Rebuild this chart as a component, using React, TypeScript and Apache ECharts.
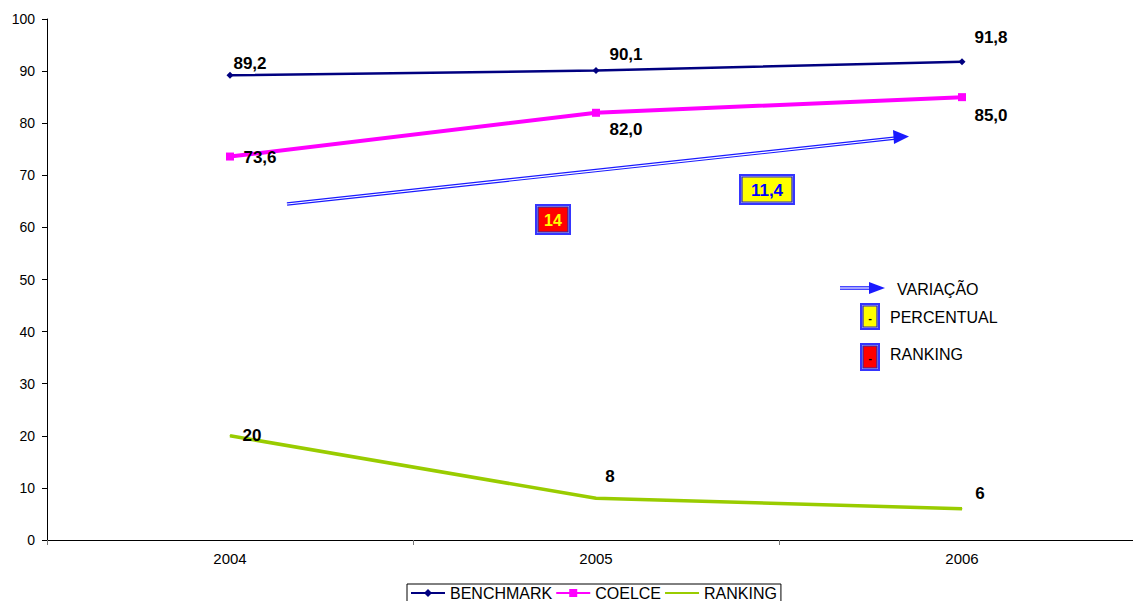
import React, { useEffect, useRef } from "react";
import * as echarts from "echarts";

const years = ["2004", "2005", "2006"];
const benchmark = [89.2, 90.1, 91.8];
const coelce = [73.6, 82.0, 85.0];
const ranking = [20, 8, 6];
const yTicks = { min: 0, max: 100, interval: 10 };
const percentualVariation = "11,4";
const rankingVariation = "14";
const legendNotes = ["VARIAÇÃO", "PERCENTUAL", "RANKING"];

// label offsets (pixels) relative to each point
const benchOffsets = [[20, -12], [30, -16], [29, -24]];
const coelceOffsets = [[30, 1], [30, 17], [29, 18]];
const rankOffsets = [[22, 0], [14, -22], [18, -15]];

const FONT = "Arial, 'Liberation Sans', sans-serif";

function withLabels(values: number[], offsets: number[][]) {
  return values.map((v, i) => ({
    value: v,
    label: { offset: offsets[i] },
  }));
}

function fmt1(p: any) {
  return Number(p.value).toFixed(1).replace(".", ",");
}

function doubleLine(x1: number, y1: number, x2: number, y2: number) {
  return [
    { type: "line", shape: { x1, y1, x2, y2 }, style: { stroke: "#1a1aff", lineWidth: 3.6 } },
    { type: "line", shape: { x1, y1, x2, y2 }, style: { stroke: "#ffffff", lineWidth: 1.2 } },
  ];
}

function badge(x: number, y: number, w: number, h: number, fill: string, text: string, textColor: string, fontSize: number) {
  return [
    { type: "rect", shape: { x, y, width: w, height: h }, style: { fill: "#3535ff" } },
    { type: "rect", shape: { x: x + 2, y: y + 2, width: w - 4, height: h - 4 }, style: { fill: "#b8b8ff" } },
    { type: "rect", shape: { x: x + 3, y: y + 3, width: w - 6, height: h - 6 }, style: { fill: fill, stroke: "#2a2ab0", lineWidth: 1.2 } },
    {
      type: "text",
      x: x + w / 2,
      y: y + h / 2 + 1,
      style: { text, fill: textColor, font: `bold ${fontSize}px ${FONT}`, align: "center", verticalAlign: "middle" },
    },
  ];
}

export default function App() {
  const ref = useRef<HTMLDivElement>(null);

  useEffect(() => {
    if (!ref.current) return;
    const chart = echarts.init(ref.current, null, { renderer: "svg" });

    const labelBase = {
      show: true,
      position: "inside",
      color: "#000",
      fontFamily: FONT,
      fontSize: 17,
      fontWeight: "bold",
    };

    const noteFont = `16px ${FONT}`;

    const graphic: any[] = [
      // main variation arrow
      ...doubleLine(287, 204, 896, 138),
      { type: "polygon", shape: { points: [[893, 130], [909, 136.5], [894, 144]] }, style: { fill: "#1a1aff" } },
      ...badge(535, 204, 36, 31, "#ff0000", rankingVariation, "#ffff00", 16),
      ...badge(739, 174, 56, 31, "#ffff00", percentualVariation, "#0000ff", 17),
      // side notes
      ...doubleLine(840, 288, 872, 288),
      { type: "polygon", shape: { points: [[869, 282], [885, 288], [869, 294]] }, style: { fill: "#1a1aff" } },
      { type: "text", x: 897, y: 289, style: { text: legendNotes[0], fill: "#000", font: noteFont, verticalAlign: "middle" } },
      ...badge(860, 303, 20, 27, "#ffff00", "-", "#000", 11),
      { type: "text", x: 890, y: 317, style: { text: legendNotes[1], fill: "#000", font: noteFont, verticalAlign: "middle" } },
      ...badge(860, 343, 20, 28, "#ff0000", "-", "#000", 11),
      { type: "text", x: 890, y: 354, style: { text: legendNotes[2], fill: "#000", font: noteFont, verticalAlign: "middle" } },
    ];

    chart.setOption({
      animation: false,
      backgroundColor: "#ffffff",
      textStyle: { fontFamily: FONT },
      grid: { left: 47, right: 0, top: 19, bottom: 61, containLabel: false },
      legend: {
        left: 407,
        top: 584,
        orient: "horizontal",
        padding: [1, 4, 4, 3],
        borderColor: "#000",
        borderWidth: 1,
        itemGap: 3,
        itemWidth: 34,
        itemHeight: 10,
        textStyle: { fontFamily: FONT, fontSize: 16, color: "#000", lineHeight: 16 },
        data: [
          { name: "BENCHMARK" },
          { name: "COELCE" },
          { name: "RANKING", itemStyle: { opacity: 0 } },
        ],
      },
      xAxis: {
        type: "category",
        data: years,
        boundaryGap: true,
        axisLine: { lineStyle: { color: "#000", width: 1 } },
        axisTick: { show: true, interval: 0, length: 5, lineStyle: { color: "#777" } },
        axisLabel: { color: "#000", fontSize: 15, fontFamily: FONT, margin: 11 },
        splitLine: { show: false },
      },
      yAxis: {
        type: "value",
        min: yTicks.min,
        max: yTicks.max,
        interval: yTicks.interval,
        axisLine: { show: true, lineStyle: { color: "#000", width: 1 } },
        axisTick: { show: true, length: 5, lineStyle: { color: "#000" } },
        axisLabel: { color: "#000", fontSize: 14, fontFamily: FONT, margin: 12 },
        splitLine: { show: false },
      },
      series: [
        {
          name: "BENCHMARK",
          type: "line",
          data: withLabels(benchmark, benchOffsets),
          symbol: "diamond",
          symbolSize: 7,
          color: "#000080",
          lineStyle: { color: "#000080", width: 2.5 },
          itemStyle: { color: "#000080" },
          label: { ...labelBase, formatter: fmt1 },
          z: 4,
        },
        {
          name: "COELCE",
          type: "line",
          data: withLabels(coelce, coelceOffsets),
          symbol: "rect",
          symbolSize: 8,
          color: "#ff00ff",
          lineStyle: { color: "#ff00ff", width: 4 },
          itemStyle: { color: "#ff00ff" },
          label: { ...labelBase, formatter: fmt1 },
          z: 3,
        },
        {
          name: "RANKING",
          type: "line",
          data: withLabels(ranking, rankOffsets),
          symbol: "circle",
          symbolSize: 1,
          color: "#99cc00",
          lineStyle: { color: "#99cc00", width: 3.5 },
          itemStyle: { color: "#99cc00" },
          label: { ...labelBase, formatter: (p: any) => String(p.value) },
          z: 2,
        },
      ],
      graphic,
    });

    return () => chart.dispose();
  }, []);

  return (
    <div style={{ position: "fixed", left: 0, top: 0, width: 1133, height: 601, overflow: "hidden", background: "#fff" }}>
      <div ref={ref} style={{ position: "absolute", left: 0, top: 0, width: 1145, height: 601 }} />
    </div>
  );
}
